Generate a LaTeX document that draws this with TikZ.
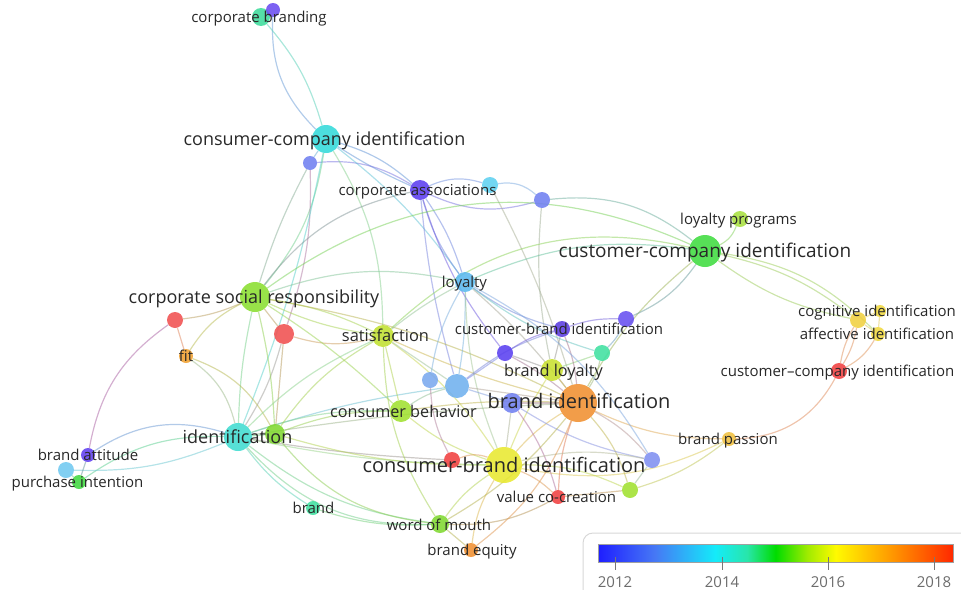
\documentclass[tikz,border=0pt]{standalone}
\usepackage{fontspec}
\setmainfont{Open Sans}
\pgfdeclarelayer{edges}
\pgfsetlayers{edges,main}
% node colours
\definecolor{k-cbA}{RGB}{61,220,156}
\definecolor{k-cbB}{RGB}{106,76,240}
\definecolor{k-cci}{RGB}{51,218,218}
\definecolor{k-b1}{RGB}{111,127,240}
\definecolor{k-ca}{RGB}{91,60,240}
\definecolor{k-c1}{RGB}{95,208,240}
\definecolor{k-b2}{RGB}{112,128,240}
\definecolor{k-lp}{RGB}{168,224,64}
\definecolor{k-cuci}{RGB}{64,220,64}
\definecolor{k-csr}{RGB}{138,222,48}
\definecolor{k-loy}{RGB}{90,184,238}
\definecolor{k-r1}{RGB}{240,80,80}
\definecolor{k-r2}{RGB}{240,80,80}
\definecolor{k-sat}{RGB}{192,224,48}
\definecolor{k-fit}{RGB}{240,160,48}
\definecolor{k-cbi}{RGB}{90,60,224}
\definecolor{k-p2}{RGB}{102,80,240}
\definecolor{k-p3}{RGB}{90,64,240}
\definecolor{k-tg}{RGB}{64,224,160}
\definecolor{k-bl}{RGB}{200,224,48}
\definecolor{k-b3}{RGB}{122,168,238}
\definecolor{k-b4}{RGB}{112,176,238}
\definecolor{k-bi}{RGB}{240,144,48}
\definecolor{k-b5}{RGB}{112,128,240}
\definecolor{k-cb}{RGB}{160,224,48}
\definecolor{k-id}{RGB}{64,220,208}
\definecolor{k-g1}{RGB}{128,216,48}
\definecolor{k-ba}{RGB}{96,64,240}
\definecolor{k-c2}{RGB}{112,200,240}
\definecolor{k-pi}{RGB}{64,216,64}
\definecolor{k-cbri}{RGB}{232,232,48}
\definecolor{k-r3}{RGB}{240,64,64}
\definecolor{k-b6}{RGB}{128,144,240}
\definecolor{k-vcc}{RGB}{240,64,64}
\definecolor{k-g2}{RGB}{160,224,48}
\definecolor{k-bp}{RGB}{240,192,64}
\definecolor{k-ci1}{RGB}{240,208,64}
\definecolor{k-ci2}{RGB}{240,216,64}
\definecolor{k-ai}{RGB}{240,216,64}
\definecolor{k-cuci2}{RGB}{240,64,64}
\definecolor{k-br}{RGB}{64,224,160}
\definecolor{k-wom}{RGB}{128,216,48}
\definecolor{k-be}{RGB}{240,144,48}
\definecolor{txt}{RGB}{40,40,40}
\definecolor{boxline}{RGB}{215,215,215}
\definecolor{tickgray}{RGB}{120,120,120}
\definecolor{edgegray}{RGB}{170,170,170}
% legend gradient colours
\definecolor{s0}{RGB}{30,30,255}
\definecolor{s1}{RGB}{70,120,245}
\definecolor{s2}{RGB}{20,235,250}
\definecolor{s3}{RGB}{40,230,170}
\definecolor{s4}{RGB}{0,220,0}
\definecolor{s5}{RGB}{160,235,0}
\definecolor{s6}{RGB}{255,250,0}
\definecolor{s7}{RGB}{255,150,0}
\definecolor{s8}{RGB}{255,40,0}
\pgfdeclarehorizontalshading{vosbar}{100bp}{color(0bp)=(s0); color(25bp)=(s0); color(33bp)=(s1); color(41.5bp)=(s2); color(46bp)=(s3); color(50bp)=(s4); color(54.5bp)=(s5); color(58.5bp)=(s6); color(66.5bp)=(s7); color(75bp)=(s8); color(100bp)=(s8)}
\tikzset{
  vdot/.style={circle, inner sep=0pt, minimum size=#1, fill opacity=0.88, draw=none},
  vline/.style={line width=1.2pt, draw opacity=0.5},
  lbl/.style={text=txt, inner sep=0pt, anchor=base, yshift={-0.35*#1pt}, font=\fontsize{#1}{#1}\selectfont},
  lbl/.default=15,
}
\newcommand{\vedge}[3]{\draw[vline,draw=k-#1!50!k-#2!75!edgegray] (#1) to[#3] (#2);}
\begin{document}
\begin{tikzpicture}[x=1pt,y=-1pt]
\useasboundingbox (0,0) rectangle (961,589);
% ---------- nodes (circles) ----------
\node[vdot=18pt, fill=k-cbA] (cbA) at (261,17) {};
\node[vdot=14pt, fill=k-cbB] (cbB) at (273,10) {};
\node[vdot=28pt, fill=k-cci] (cci) at (326,139) {};
\node[vdot=14pt, fill=k-b1] (b1) at (310,163) {};
\node[vdot=20pt, fill=k-ca] (ca) at (420,190) {};
\node[vdot=16pt, fill=k-c1] (c1) at (490,185) {};
\node[vdot=16pt, fill=k-b2] (b2) at (542,200) {};
\node[vdot=16pt, fill=k-lp] (lp) at (740,219) {};
\node[vdot=32pt, fill=k-cuci] (cuci) at (705,251) {};
\node[vdot=30pt, fill=k-csr] (csr) at (255,297) {};
\node[vdot=20pt, fill=k-loy] (loy) at (465,282) {};
\node[vdot=16pt, fill=k-r1] (r1) at (175,320) {};
\node[vdot=20pt, fill=k-r2] (r2) at (284,334) {};
\node[vdot=22pt, fill=k-sat] (sat) at (383,336) {};
\node[vdot=14pt, fill=k-fit] (fit) at (186,356) {};
\node[vdot=16pt, fill=k-cbi] (cbi) at (562,329) {};
\node[vdot=16pt, fill=k-p2] (p2) at (626,319) {};
\node[vdot=16pt, fill=k-p3] (p3) at (505,353) {};
\node[vdot=16pt, fill=k-tg] (tg) at (602,353) {};
\node[vdot=22pt, fill=k-bl] (bl) at (552,370) {};
\node[vdot=16pt, fill=k-b3] (b3) at (430,380) {};
\node[vdot=24pt, fill=k-b4] (b4) at (457,386) {};
\node[vdot=20pt, fill=k-b5] (b5) at (512,403) {};
\node[vdot=38pt, fill=k-bi] (bi) at (578,403) {};
\node[vdot=22pt, fill=k-cb] (cb) at (401,411) {};
\node[vdot=28pt, fill=k-id] (id) at (238,437) {};
\node[vdot=20pt, fill=k-g1] (g1) at (275,434) {};
\node[vdot=14pt, fill=k-ba] (ba) at (88,455) {};
\node[vdot=16pt, fill=k-c2] (c2) at (66,470) {};
\node[vdot=14pt, fill=k-pi] (pi) at (79,482) {};
\node[vdot=16pt, fill=k-r3] (r3) at (452,460) {};
\node[vdot=36pt, fill=k-cbri] (cbri) at (504,465) {};
\node[vdot=16pt, fill=k-b6] (b6) at (652,460) {};
\node[vdot=14pt, fill=k-vcc] (vcc) at (558,497) {};
\node[vdot=16pt, fill=k-g2] (g2) at (630,490) {};
\node[vdot=14pt, fill=k-bp] (bp) at (729,439) {};
\node[vdot=16pt, fill=k-ci1] (ci1) at (858,320) {};
\node[vdot=12pt, fill=k-ci2] (ci2) at (880,311) {};
\node[vdot=14pt, fill=k-ai] (ai) at (878,334) {};
\node[vdot=16pt, fill=k-cuci2] (cuci2) at (839,371) {};
\node[vdot=14pt, fill=k-br] (br) at (313,508) {};
\node[vdot=18pt, fill=k-wom] (wom) at (440,524) {};
\node[vdot=14pt, fill=k-be] (be) at (471,550) {};
% ---------- edges ----------
\begin{pgfonlayer}{edges}
\vedge{cbB}{cci}{bend right=24}
\vedge{cbA}{cci}{bend left=12}
\vedge{cci}{b1}{}
\vedge{cci}{ca}{bend left=12}
\vedge{cci}{ca}{bend right=4}
\vedge{b1}{ca}{bend left=18}
\vedge{cci}{loy}{bend left=8}
\vedge{cci}{csr}{bend left=15}
\vedge{cci}{sat}{bend left=15}
\vedge{b1}{csr}{bend right=5}
\vedge{b1}{r2}{bend left=10}
\vedge{id}{cci}{bend right=5}
\vedge{ca}{loy}{bend right=10}
\vedge{ca}{loy}{bend left=8}
\vedge{ca}{c1}{bend left=20}
\vedge{c1}{b2}{bend left=25}
\vedge{ca}{b2}{bend right=20}
\vedge{ca}{csr}{bend right=20}
\vedge{ca}{p3}{bend right=10}
\vedge{ca}{b4}{bend right=5}
\vedge{c1}{bi}{bend left=5}
\vedge{b2}{bl}{bend right=8}
\vedge{b2}{cuci}{bend left=22}
\vedge{csr}{cuci}{bend left=30}
\vedge{sat}{cuci}{bend left=28}
\vedge{loy}{cuci}{bend left=15}
\vedge{cuci}{lp}{bend right=20}
\vedge{cuci}{ci1}{bend left=12}
\vedge{cuci}{ai}{bend left=18}
\vedge{cuci}{ci1}{bend right=12}
\vedge{cuci}{bi}{bend right=10}
\vedge{p2}{cuci}{bend right=15}
\vedge{cbi}{p2}{bend left=10}
\vedge{cuci2}{ci1}{bend left=10}
\vedge{cuci2}{ai}{bend right=15}
\vedge{cuci2}{ci1}{bend right=10}
\vedge{ci1}{ai}{}
\vedge{ci2}{ci1}{}
\vedge{ci2}{ai}{}
\vedge{bp}{cuci2}{bend right=30}
\vedge{bp}{bi}{bend left=12}
\vedge{bp}{cbri}{bend left=18}
\vedge{g2}{bp}{bend right=10}
\vedge{csr}{r1}{bend left=8}
\vedge{r1}{fit}{}
\vedge{csr}{fit}{bend right=15}
\vedge{r1}{ba}{bend right=22}
\vedge{csr}{r2}{}
\vedge{r2}{sat}{bend right=15}
\vedge{r2}{g1}{}
\vedge{r2}{id}{bend left=8}
\vedge{csr}{g1}{bend left=5}
\vedge{csr}{sat}{bend left=8}
\vedge{csr}{sat}{bend right=8}
\vedge{csr}{loy}{bend left=15}
\vedge{csr}{bi}{bend left=8}
\vedge{csr}{cb}{bend left=5}
\vedge{csr}{id}{bend right=5}
\vedge{fit}{id}{bend left=20}
\vedge{fit}{g1}{bend left=20}
\vedge{id}{ba}{bend right=25}
\vedge{id}{pi}{bend right=18}
\vedge{id}{c2}{bend left=12}
\vedge{ba}{pi}{}
\vedge{c2}{pi}{}
\vedge{id}{br}{bend right=10}
\vedge{id}{wom}{bend right=15}
\vedge{id}{wom}{bend right=25}
\vedge{id}{cbri}{bend right=5}
\vedge{id}{r3}{bend right=3}
\vedge{id}{bi}{bend left=3}
\vedge{id}{b4}{bend left=5}
\vedge{id}{cb}{bend left=10}
\vedge{id}{g1}{}
\vedge{id}{sat}{bend left=10}
\vedge{g1}{sat}{bend left=12}
\vedge{g1}{cb}{bend left=10}
\vedge{g1}{wom}{bend right=22}
\vedge{g1}{cbri}{bend right=8}
\vedge{sat}{cb}{}
\vedge{sat}{bi}{bend right=5}
\vedge{sat}{loy}{bend left=5}
\vedge{sat}{cbri}{bend left=10}
\vedge{sat}{b4}{}
\vedge{sat}{wom}{bend right=15}
\vedge{loy}{b4}{bend left=5}
\vedge{loy}{b3}{bend right=10}
\vedge{loy}{cbi}{bend right=10}
\vedge{loy}{bi}{bend left=5}
\vedge{loy}{cbri}{bend right=10}
\vedge{loy}{tg}{bend right=10}
\vedge{cb}{b4}{bend left=10}
\vedge{cb}{bi}{bend left=5}
\vedge{cb}{cbri}{bend right=10}
\vedge{b3}{r3}{bend right=12}
\vedge{r3}{cbri}{bend left=20}
\vedge{b4}{bi}{}
\vedge{b4}{b5}{}
\vedge{b4}{cbi}{bend left=10}
\vedge{b4}{p3}{}
\vedge{p3}{cbi}{bend left=10}
\vedge{p3}{bl}{}
\vedge{p3}{bi}{bend left=5}
\vedge{tg}{bl}{}
\vedge{tg}{bi}{bend left=10}
\vedge{tg}{p2}{bend right=10}
\vedge{cbi}{bl}{}
\vedge{cbi}{bi}{bend left=8}
\vedge{bl}{bi}{}
\vedge{bl}{cbri}{bend right=5}
\vedge{bi}{cbri}{bend right=8}
\vedge{bi}{vcc}{bend right=8}
\vedge{bi}{g2}{bend left=12}
\vedge{bi}{b6}{bend left=10}
\vedge{b5}{bi}{}
\vedge{b5}{cbri}{}
\vedge{b5}{vcc}{bend left=10}
\vedge{b5}{b6}{bend right=10}
\vedge{cbri}{wom}{bend right=10}
\vedge{cbri}{be}{bend right=12}
\vedge{cbri}{vcc}{bend left=10}
\vedge{cbri}{g2}{bend left=12}
\vedge{cbri}{b6}{bend left=12}
\vedge{vcc}{g2}{}
\vedge{vcc}{wom}{bend left=15}
\vedge{b6}{g2}{}
\vedge{wom}{be}{}
\vedge{br}{wom}{bend right=10}
\vedge{bi}{be}{bend left=15}
\vedge{bi}{wom}{bend left=10}
\vedge{b6}{loy}{bend right=15}
\end{pgfonlayer}
% ---------- labels ----------
\node[lbl] (cbA-l) at (259,17) {corporate branding};
\node[lbl=18] (cci-l) at (324.5,139) {consumer-company identification};
\node[lbl] (ca-l) at (417.5,190) {corporate associations};
\node[lbl] (lp-l) at (738.5,219) {loyalty programs};
\node[lbl=19] (cuci-l) at (705,251) {customer-company identification};
\node[lbl=18] (csr-l) at (254,297) {corporate social responsibility};
\node[lbl] (loy-l) at (464.5,282) {loyalty};
\node[lbl=16.4] (sat-l) at (385.5,336) {satisfaction};
\node[lbl] (fit-l) at (186,356) {fit};
\node[lbl] (cbi-l) at (559,329) {customer-brand identification};
\node[lbl] (ci-l) at (877,311) {cognitive identification};
\node[lbl] (ai-l) at (877,334) {affective identification};
\node[lbl] (cuci2-l) at (837.5,371) {customer–company identification};
\node[lbl=16.3] (bl-l) at (553.5,371) {brand loyalty};
\node[lbl=20] (bi-l) at (579,401) {brand identification};
\node[lbl=16.2] (cb-l) at (403.5,412) {consumer behavior};
\node[lbl] (bp-l) at (728,439) {brand passion};
\node[lbl=18] (id-l) at (237.5,437) {identification};
\node[lbl] (ba-l) at (88,455) {brand attitude};
\node[lbl] (pi-l) at (77.5,482) {purchase intention};
\node[lbl=20] (cbri-l) at (504,465) {consumer-brand identification};
\node[lbl] (vcc-l) at (556.5,497) {value co-creation};
\node[lbl] (br-l) at (313.5,508) {brand};
\node[lbl] (wom-l) at (439,525) {word of mouth};
\node[lbl] (be-l) at (472,550) {brand equity};
% ---------- legend ----------
\draw[boxline, line width=1pt, rounded corners=10pt] (583,595) -- (583,533) -- (975,533) -- (975,595);
\node[inner sep=0pt, minimum width=355pt, minimum height=18pt, shading=vosbar, draw=tickgray!70, line width=0.6pt] (bar) at (775.5,553) {};
\foreach \xx/\yy in {615/2012, 722/2014, 828/2016, 934/2018}{
  \draw[tickgray, line width=1pt] (\xx,557) -- (\xx,570);
  \node[text=tickgray!90!black, inner sep=0pt, anchor=base, font=\fontsize{15}{15}\selectfont] (y\yy) at (\xx,587) {\yy};
}
\end{tikzpicture}
\end{document}
